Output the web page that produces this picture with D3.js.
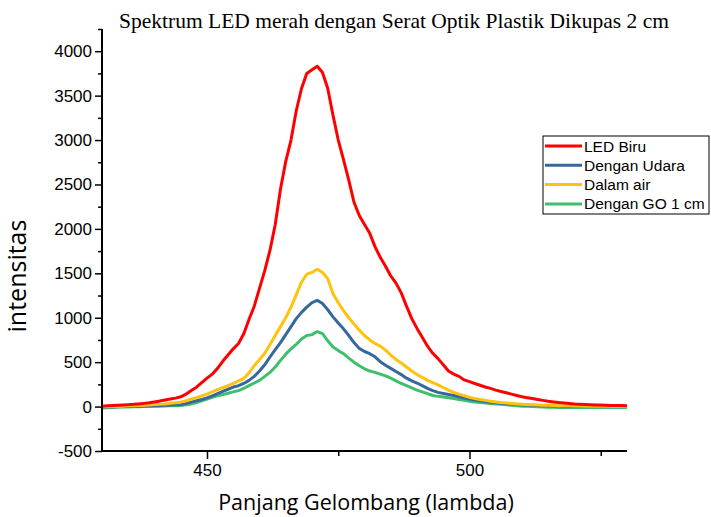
<!DOCTYPE html>
<html>
<head>
<meta charset="utf-8">
<script src="https://cdn.jsdelivr.net/npm/d3@7/dist/d3.min.js"></script>
<style>
  html, body { margin: 0; padding: 0; background: #fff; }
  svg { display: block; }
</style>
</head>
<body>
<svg id="chart" width="711" height="517"></svg>
<script>
// Wavelength samples (nm)
const wavelength = d3.range(430, 531);

// Intensity for each configuration, one value per wavelength sample
const ledBiru = [
  5, 8, 12, 15, 18, 22, 25, 30, 36, 42,
  52, 62, 75, 85, 95, 110, 140, 180, 218, 270,
  320, 365, 430, 510, 580, 650, 710, 820, 980, 1130,
  1330, 1530, 1760, 2050, 2450, 2760, 3000, 3330, 3580, 3750,
  3790, 3830, 3760, 3580, 3280, 3000, 2780, 2550, 2300, 2150,
  2050, 1950, 1800, 1680, 1580, 1470, 1390, 1280, 1130, 990,
  880, 780, 680, 600, 540, 470, 400, 365, 340, 300,
  280, 260, 240, 220, 205, 185, 170, 155, 140, 125,
  110, 100, 90, 80, 70, 60, 52, 45, 40, 35,
  30, 27, 24, 21, 19, 17, 15, 13, 12, 11,
  10
];
const denganUdara = [
  -5, -4, -2, 0, 2, 3, 4, 5, 6, 8,
  10, 12, 14, 17, 20, 24, 35, 50, 65, 80,
  98, 120, 145, 170, 195, 220, 235, 260, 295, 340,
  400, 470, 560, 640, 720, 810, 900, 990, 1060, 1120,
  1170, 1195, 1160, 1090, 1010, 940, 875, 800, 720, 655,
  620, 595, 560, 505, 465, 430, 395, 360, 320, 290,
  265, 235, 205, 180, 160, 148, 137, 125, 110, 95,
  85, 75, 65, 57, 50, 44, 38, 33, 28, 24,
  20, 17, 14, 12, 10, 8, 7, 6, 5, 4,
  3, 3, 2, 2, 2, 1, 1, 1, 0, 0,
  0
];
const dalamAir = [
  -5, -3, 0, 2, 5, 8, 10, 12, 15, 18,
  22, 26, 30, 38, 44, 50, 65, 85, 100, 120,
  140, 165, 190, 212, 235, 260, 290, 315, 380, 460,
  530, 600, 700, 800, 900, 1000, 1120, 1260, 1400, 1490,
  1510, 1545, 1510, 1440, 1270, 1170, 1080, 1000, 930, 860,
  800, 750, 710, 680, 635, 580, 530, 490, 445, 400,
  360, 330, 295, 270, 245, 215, 185, 160, 140, 122,
  105, 90, 80, 70, 60, 52, 45, 40, 35, 30,
  26, 23, 20, 18, 16, 14, 12, 10, 9, 8,
  7, 6, 5, 4, 4, 3, 3, 2, 2, 1,
  1
];
const denganGO = [
  -15, -12, -10, -8, -6, -5, -3, -2, 0, 2,
  4, 5, 6, 8, 10, 12, 20, 30, 45, 65,
  85, 105, 120, 135, 150, 165, 180, 205, 235, 265,
  295, 340, 385, 445, 520, 590, 650, 700, 760, 800,
  810, 845, 820, 740, 670, 630, 595, 545, 500, 460,
  425, 400, 385, 365, 345, 320, 290, 260, 235, 210,
  185, 165, 145, 125, 115, 108, 100, 90, 80, 70,
  60, 52, 45, 40, 35, 30, 25, 20, 15, 10,
  5, 3, 0, -3, -5, -7, -8, -10, -10, -10,
  -10, -10, -10, -10, -10, -10, -10, -10, -10, -10,
  -10
];

const seriesNames = ["LED Biru", "Dengan Udara", "Dalam air", "Dengan GO 1 cm"];
const seriesValues = [ledBiru, denganUdara, dalamAir, denganGO];
const seriesColors = ["#ff0000", "#35689d", "#ffc20e", "#3fbf6e"];

const xTickValues = [450, 500];
const xMinorTicks = [475, 525];
const yTickValues = [-500, 0, 500, 1000, 1500, 2000, 2500, 3000, 3500, 4000];
const yMinorTicks = d3.range(-250, 4251, 500);

const titleText = "Spektrum LED merah dengan Serat Optik Plastik Dikupas 2 cm";
const xLabel = "Panjang Gelombang (lambda)";
const yLabel = "intensitas";

const svg = d3.select("#chart");
const plotLeft = 102, plotRight = 627, plotTop = 29, plotBottom = 451;

const x = d3.scaleLinear().domain([430, 530]).range([plotLeft, plotRight]);
const y = d3.scaleLinear().domain([-500, 4250]).range([plotBottom, plotTop]);

// Title
svg.append("text")
  .attr("x", 394).attr("y", 28)
  .attr("text-anchor", "middle")
  .style("font-family", "'Liberation Serif', 'Times New Roman', serif")
  .style("font-size", "21.5px")
  .attr("fill", "#000")
  .text(titleText);

// Curves
svg.append("defs").append("clipPath").attr("id", "plotClip")
  .append("rect")
  .attr("x", plotLeft).attr("y", plotTop)
  .attr("width", plotRight - plotLeft).attr("height", plotBottom - plotTop);

const line = d3.line()
  .x((d, i) => x(wavelength[i]))
  .y(d => y(d));

const curves = svg.append("g").attr("clip-path", "url(#plotClip)");
// draw green first so red sits on top
[3, 1, 2, 0].forEach(k => {
  curves.append("path")
    .datum(seriesValues[k])
    .attr("fill", "none")
    .attr("stroke", seriesColors[k])
    .attr("stroke-width", 3)
    .attr("stroke-linejoin", "round")
    .attr("d", line);
});

// Axes
const axisFont = "'Liberation Sans', Arial, sans-serif";

const yAxis = svg.append("g")
  .attr("transform", `translate(${plotLeft},0)`)
  .call(d3.axisLeft(y).tickValues(yTickValues).tickSize(7).tickPadding(3).tickFormat(d3.format("d")));
yAxis.select(".domain").remove();
yAxis.selectAll(".tick line").attr("stroke", "#000").attr("stroke-width", 1.5);
yAxis.selectAll(".tick text")
  .style("font-family", axisFont).style("font-size", "17px").attr("fill", "#000")
  .text(d => d < 0 ? "-" + Math.abs(d) : d);

const yMinor = svg.append("g")
  .attr("transform", `translate(${plotLeft},0)`)
  .call(d3.axisLeft(y).tickValues(yMinorTicks).tickSize(4).tickFormat(""));
yMinor.select(".domain").remove();
yMinor.selectAll(".tick line").attr("stroke", "#000").attr("stroke-width", 1.5);

const xAxis = svg.append("g")
  .attr("transform", `translate(0,${plotBottom})`)
  .call(d3.axisBottom(x).tickValues(xTickValues).tickSize(8).tickPadding(5).tickFormat(d3.format("d")));
xAxis.select(".domain").remove();
xAxis.selectAll(".tick line").attr("stroke", "#000").attr("stroke-width", 1.5);
xAxis.selectAll(".tick text")
  .style("font-family", axisFont).style("font-size", "17px").attr("fill", "#000");

const xMinor = svg.append("g")
  .attr("transform", `translate(0,${plotBottom})`)
  .call(d3.axisBottom(x).tickValues(xMinorTicks).tickSize(5).tickFormat(""));
xMinor.select(".domain").remove();
xMinor.selectAll(".tick line").attr("stroke", "#000").attr("stroke-width", 1.5);

// Axis lines
svg.append("line")
  .attr("x1", plotLeft).attr("x2", plotLeft).attr("y1", plotTop).attr("y2", plotBottom + 1)
  .attr("stroke", "#000").attr("stroke-width", 2);
svg.append("line")
  .attr("x1", plotLeft - 1).attr("x2", plotRight).attr("y1", plotBottom).attr("y2", plotBottom)
  .attr("stroke", "#000").attr("stroke-width", 2);

// Axis titles
const labelFont = "'Open Sans', 'Noto Sans', sans-serif";
svg.append("text")
  .attr("x", 366).attr("y", 510)
  .attr("text-anchor", "middle")
  .style("font-family", labelFont).style("font-size", "21.5px").attr("fill", "#000")
  .text(xLabel);
svg.append("text")
  .attr("transform", "translate(26,276) rotate(-90)")
  .attr("text-anchor", "middle")
  .style("font-family", labelFont).style("font-size", "25px").attr("fill", "#000")
  .text(yLabel);

// Legend
const legend = svg.append("g").attr("transform", "translate(543,136)");
legend.append("rect")
  .attr("x", 0).attr("y", 0).attr("width", 166).attr("height", 78)
  .attr("fill", "#fff").attr("stroke", "#000").attr("stroke-width", 1);
seriesNames.forEach((name, i) => {
  const cy = 10 + i * 19.3;
  legend.append("line")
    .attr("x1", 2).attr("x2", 39).attr("y1", cy).attr("y2", cy)
    .attr("stroke", seriesColors[i]).attr("stroke-width", 3);
  legend.append("text")
    .attr("x", 41).attr("y", cy + 5.5)
    .style("font-family", axisFont).style("font-size", "15.5px").attr("fill", "#000")
    .text(name);
});
</script>
</body>
</html>
